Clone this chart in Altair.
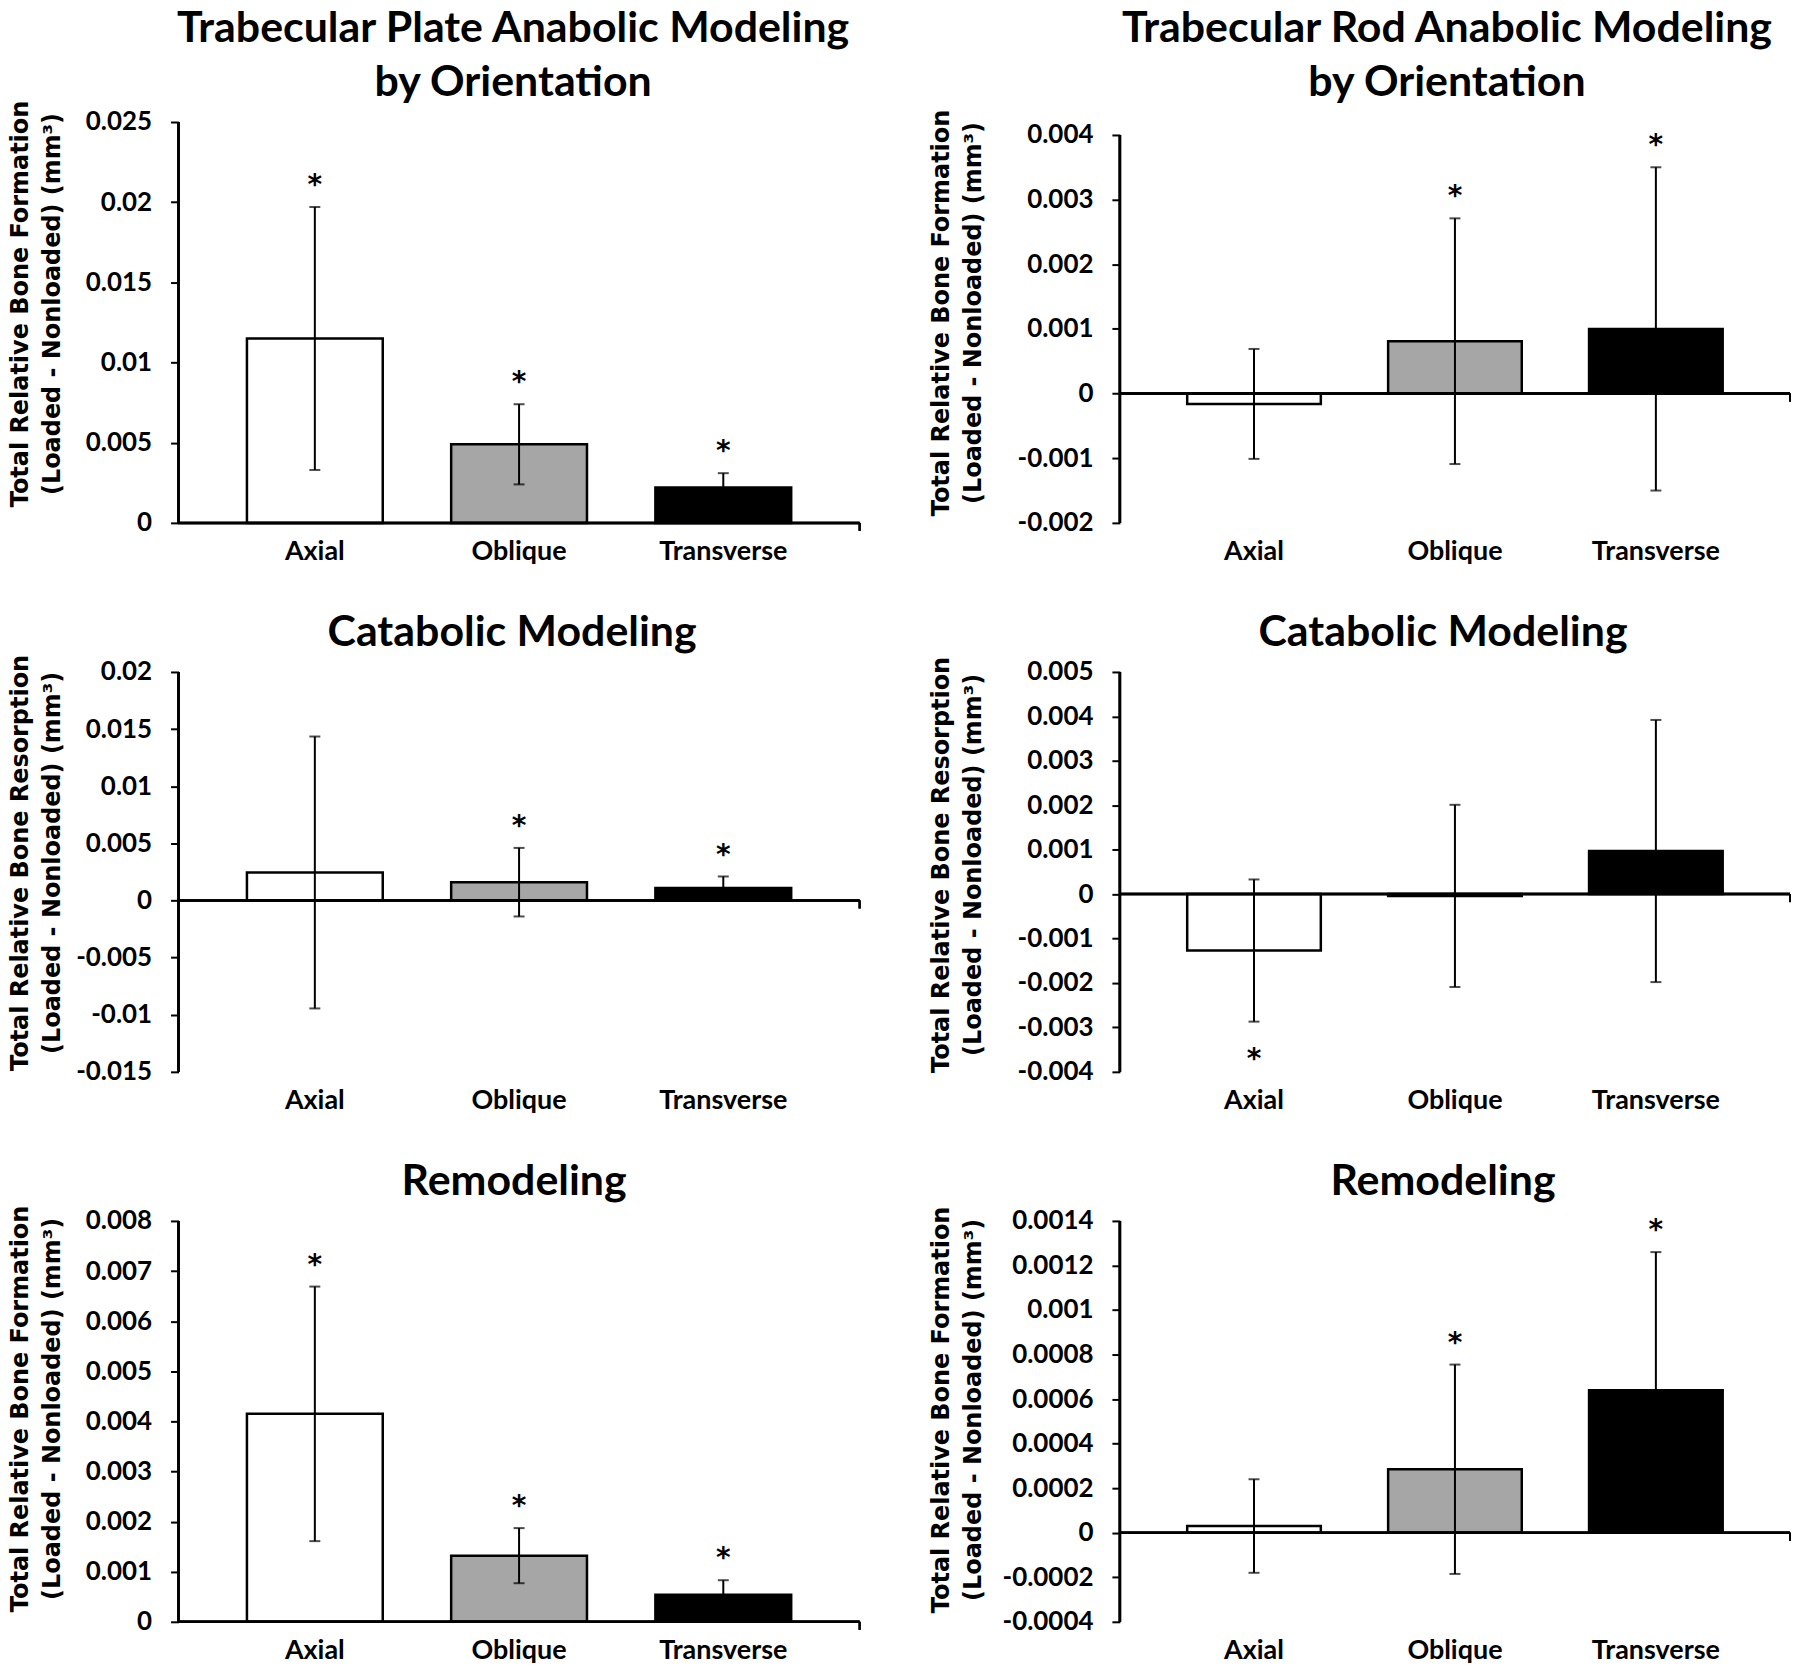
import altair as alt
import pandas as pd

CATEGORIES = ["Axial", "Oblique", "Transverse"]
FILLS = ["#ffffff", "#a6a6a6", "#000000"]

# Top-left: Trabecular Plate Anabolic Modeling
PLATE_ANABOLIC_MEAN = [0.0115, 0.0049, 0.0022]
PLATE_ANABOLIC_ERR = [0.0082, 0.0025, 0.0009]
PLATE_ANABOLIC_STAR = ["above", "above", "above"]

# Top-right: Trabecular Rod Anabolic Modeling
ROD_ANABOLIC_MEAN = [-0.00016, 0.00081, 0.00100]
ROD_ANABOLIC_ERR = [0.00085, 0.0019, 0.0025]
ROD_ANABOLIC_STAR = ["", "above", "above"]

# Middle-left: Catabolic Modeling (plate)
PLATE_CATABOLIC_MEAN = [0.00245, 0.0016, 0.0011]
PLATE_CATABOLIC_ERR = [0.0119, 0.0030, 0.0010]
PLATE_CATABOLIC_STAR = ["", "above", "above"]

# Middle-right: Catabolic Modeling (rod)
ROD_CATABOLIC_MEAN = [-0.00127, -0.00004, 0.00097]
ROD_CATABOLIC_ERR = [0.0016, 0.00205, 0.00295]
ROD_CATABOLIC_STAR = ["below", "", ""]

# Bottom-left: Remodeling (plate)
PLATE_REMODELING_MEAN = [0.00415, 0.00132, 0.00054]
PLATE_REMODELING_ERR = [0.00254, 0.00055, 0.00029]
PLATE_REMODELING_STAR = ["above", "above", "above"]

# Bottom-right: Remodeling (rod)
ROD_REMODELING_MEAN = [0.00003, 0.000285, 0.00064]
ROD_REMODELING_ERR = [0.00021, 0.00047, 0.00062]
ROD_REMODELING_STAR = ["", "above", "above"]

TITLE_PLATE_ANABOLIC = ["Trabecular Plate Anabolic Modeling", "by Orientation"]
TITLE_ROD_ANABOLIC = ["Trabecular Rod Anabolic Modeling", "by Orientation"]
TITLE_CATABOLIC = ["Catabolic Modeling"]
TITLE_REMODELING = ["Remodeling"]
YTITLE_FORMATION = ["Total Relative Bone Formation", "(Loaded - Nonloaded) (mm³)"]
YTITLE_RESORPTION = ["Total Relative Bone Resorption", "(Loaded - Nonloaded) (mm³)"]

TICKS_1 = [0, 0.005, 0.01, 0.015, 0.02, 0.025]
TICKS_2 = [-0.002, -0.001, 0, 0.001, 0.002, 0.003, 0.004]
TICKS_3 = [-0.015, -0.01, -0.005, 0, 0.005, 0.01, 0.015, 0.02]
TICKS_4 = [-0.004, -0.003, -0.002, -0.001, 0, 0.001, 0.002, 0.003, 0.004, 0.005]
TICKS_5 = [0, 0.001, 0.002, 0.003, 0.004, 0.005, 0.006, 0.007, 0.008]
TICKS_6 = [-0.0004, -0.0002, 0, 0.0002, 0.0004, 0.0006, 0.0008, 0.001, 0.0012, 0.0014]

LABEL_FONT = "Lato"
AXIS_TITLE_FONT = "DejaVu Sans"
TITLE_SIZE = 43
TITLE_LINE = 54


def panel(mean, err, star, title, ytitle, ticks, scale_domain, width, height,
          title_x, title_y, title_dx):
    df = pd.DataFrame({"cat": CATEGORIES, "mean": mean, "err": err, "star": star})
    axis_lo, axis_hi = min(ticks), max(ticks)
    base = alt.Chart(df).transform_calculate(
        lo="datum.mean - datum.err", hi="datum.mean + datum.err"
    )
    xenc = alt.X(
        "cat:N",
        sort=CATEGORIES,
        scale=alt.Scale(paddingInner=0.335, paddingOuter=0.335),
        axis=alt.Axis(
            title=None, domain=False, ticks=False, labelAngle=0,
            labelFont=LABEL_FONT, labelFontWeight="bold", labelFontSize=27,
            labelColor="black", labelPadding=16,
        ),
    )
    yscale = alt.Scale(domain=scale_domain, nice=False, zero=False)
    yaxis = alt.Axis(
        values=ticks, title=ytitle, domain=False, grid=False,
        labelExpr="toString(datum.value)",
        labelFont=LABEL_FONT, labelFontWeight="bold", labelFontSize=26,
        labelColor="black", labelPadding=19,
        tickSize=8, tickWidth=2, tickColor="black",
        titleFont=AXIS_TITLE_FONT, titleFontWeight="bold", titleFontSize=24,
        titleColor="black", titleLineHeight=32, titleAngle=270,
        titleBaseline="top", titleAlign="center",
        titleX=title_x, titleY=title_y,
    )
    bars = base.mark_bar(stroke="black", strokeWidth=2.5).encode(
        x=xenc,
        y=alt.Y("mean:Q", scale=yscale, axis=yaxis),
        y2=alt.datum(0),
        fill=alt.Fill("cat:N", scale=alt.Scale(domain=CATEGORIES, range=FILLS), legend=None),
    )
    zero_line = base.mark_rule(color="black", strokeWidth=2.5).encode(y=alt.datum(0))
    end_tick = base.mark_rule(color="black", strokeWidth=2, y2Offset=8).encode(
        x=alt.value(width), y=alt.datum(0), y2=alt.datum(0)
    )
    y_axis_line = base.mark_rule(color="black", strokeWidth=2.5).encode(
        x=alt.value(0), y=alt.datum(axis_lo), y2=alt.datum(axis_hi)
    )
    err_line = base.mark_rule(color="black", strokeWidth=2).encode(
        x="cat:N", y="lo:Q", y2="hi:Q"
    )
    cap_hi = base.mark_tick(orient="horizontal", size=11, thickness=2, color="black").encode(
        x="cat:N", y="hi:Q"
    )
    cap_lo = base.mark_tick(orient="horizontal", size=11, thickness=2, color="black").encode(
        x="cat:N", y="lo:Q"
    )
    star_above = base.transform_filter("datum.star == 'above'").mark_text(
        text="*", font=AXIS_TITLE_FONT, fontWeight="bold", fontSize=28,
        baseline="alphabetic", dy=-13, color="black",
    ).encode(x="cat:N", y="hi:Q")
    star_below = base.transform_filter("datum.star == 'below'").mark_text(
        text="*", font=AXIS_TITLE_FONT, fontWeight="bold", fontSize=28,
        baseline="alphabetic", dy=46, color="black",
    ).encode(x="cat:N", y="lo:Q")
    # panel heading, set just above the plot area
    n_lines = len(title)
    heading = alt.Chart(pd.DataFrame({"t": [0]})).mark_text(
        text=title, font=LABEL_FONT, fontSize=TITLE_SIZE, fontWeight="bold",
        color="black", baseline="alphabetic", align="center",
        lineHeight=TITLE_LINE,
    ).encode(
        x=alt.value(width / 2 + title_dx),
        y=alt.value(-26 - TITLE_LINE * (n_lines - 1)),
    )
    layer = alt.layer(
        bars, err_line, cap_hi, cap_lo, zero_line, end_tick, y_axis_line,
        star_above, star_below, heading,
    ).properties(width=width, height=height)
    return layer


p1 = panel(PLATE_ANABOLIC_MEAN, PLATE_ANABOLIC_ERR, PLATE_ANABOLIC_STAR,
           TITLE_PLATE_ANABOLIC, YTITLE_FORMATION, TICKS_1, [0, 0.025],
           683, 402, -170, 182, -6)
p2 = panel(ROD_ANABOLIC_MEAN, ROD_ANABOLIC_ERR, ROD_ANABOLIC_STAR,
           TITLE_ROD_ANABOLIC, YTITLE_FORMATION, TICKS_2, [-0.002, 0.0042],
           672, 402, -191, 191, -8)
p3 = panel(PLATE_CATABOLIC_MEAN, PLATE_CATABOLIC_ERR, PLATE_CATABOLIC_STAR,
           TITLE_CATABOLIC, YTITLE_RESORPTION, TICKS_3, [-0.015, 0.02],
           683, 401, -170, 191, -7)
p4 = panel(ROD_CATABOLIC_MEAN, ROD_CATABOLIC_ERR, ROD_CATABOLIC_STAR,
           TITLE_CATABOLIC, YTITLE_RESORPTION, TICKS_4, [-0.004, 0.005],
           672, 401, -191, 193, -12)
p5 = panel(PLATE_REMODELING_MEAN, PLATE_REMODELING_ERR, PLATE_REMODELING_STAR,
           TITLE_REMODELING, YTITLE_FORMATION, TICKS_5, [0, 0.008],
           683, 402, -170, 188, -5)
p6 = panel(ROD_REMODELING_MEAN, ROD_REMODELING_ERR, ROD_REMODELING_STAR,
           TITLE_REMODELING, YTITLE_FORMATION, TICKS_6, [-0.0004, 0.0014],
           672, 402, -191, 189, -12)

chart = alt.concat(
    p1, p2, p3, p4, p5, p6,
    columns=2,
    spacing={"row": 149.5, "column": 261},
    bounds="flush",
    align="each",
).properties(
    padding={"top": -3, "left": 0, "right": 0, "bottom": 0},
    background="white",
).configure_view(
    stroke="transparent"
)

chart.save("out.html", embed_options={"renderer": "svg", "actions": False})
